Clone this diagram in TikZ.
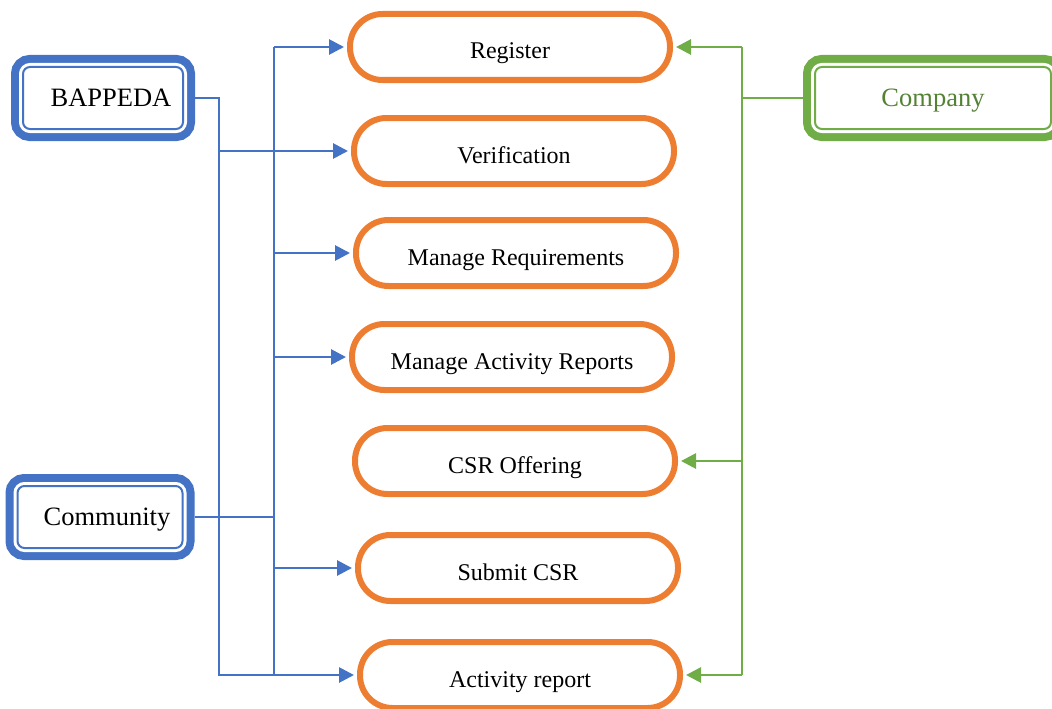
\documentclass[tikz,border=0pt]{standalone}
\usepackage{fontspec}
\setmainfont{Liberation Serif}
\usetikzlibrary{arrows.meta, positioning, calc}
\definecolor{actorblue}{HTML}{4472C4}
\definecolor{ucorange}{HTML}{ED7D31}
\definecolor{actorgreen}{HTML}{70AD47}
\definecolor{companytext}{HTML}{548235}

\begin{document}
\begin{tikzpicture}[x=1pt, y=-1pt,
        actor/.style={rectangle, draw=#1, line width=2pt, fill=white, rounded corners=7pt, minimum height=62pt, inner sep=0pt, text height=17pt, text depth=0pt, font=\fontsize{26.5}{30}\selectfont, preaction={draw=#1, line width=24pt}, preaction={draw=white, line width=8pt}},
        usecase/.style={rectangle, draw=ucorange, line width=6pt, fill=white, rounded corners=32.5pt, minimum width=320pt, minimum height=66pt, text height=24pt, text depth=0pt, font=\fontsize{24}{28}\selectfont},
        bline/.style={line width=2.8pt, actorblue},
        gline/.style={line width=2.8pt, actorgreen},
        barrow/.style={bline, -{Triangle[length=15pt, width=15pt]}, shorten >=3pt},
        garrow/.style={gline, -{Triangle[length=15pt, width=15pt]}, shorten >=3pt}
    ]
        \useasboundingbox (0,0) rectangle (1052,709);

        % Actors
        \node[actor=actorblue, minimum width=160pt] (bap) at (103, 98) {\hspace*{16pt}BAPPEDA};
        \node[actor=actorblue, minimum width=165pt] (com) at (100, 517) {\hspace*{14pt}Community};
        \node[actor=actorgreen, text=companytext, minimum width=236pt] (comp) at (933, 98) {Company};

        % Use cases
        \node[usecase] (reg) at (510, 47) {Register};
        \node[usecase] (ver) at (514, 151) {Verification};
        \node[usecase] (mreq) at (516, 253) {Manage Requirements};
        \node[usecase] (mact) at (512, 357) {Manage Activity Reports};
        \node[usecase] (csr) at (515, 461) {CSR Offering};
        \node[usecase] (sub) at (518, 568) {Submit CSR};
        \node[usecase] (act) at (520, 675) {Activity report};

        % Buses
        \coordinate (busL) at (219, 0);
        \coordinate (busR) at (274, 0);
        \coordinate (busG) at (742, 0);

        % BAPPEDA connections
        \draw[barrow] ([xshift=11pt]bap.east) -| (busL |- act.west) -- (act.west);
        \draw[barrow] (busL |- ver.west) -- (ver.west);

        % Community connections
        \draw[bline] ([xshift=11pt]com.east) -- (busR |- com.east);
        \draw[bline] (busR |- reg.west) -- (busR |- act.west);
        \draw[barrow] (busR |- reg.west) -- (reg.west);
        \draw[barrow] (busR |- mreq.west) -- (mreq.west);
        \draw[barrow] (busR |- mact.west) -- (mact.west);
        \draw[barrow] (busR |- sub.west) -- (sub.west);

        % Company connections
        \draw[gline] ([xshift=-11pt]comp.west) -- (busG |- comp.west);
        \draw[gline] (busG |- reg.east) -- (busG |- act.east);
        \draw[garrow] (busG |- reg.east) -- (reg.east);
        \draw[garrow] (busG |- csr.east) -- (csr.east);
        \draw[garrow] (busG |- act.east) -- (act.east);

    \end{tikzpicture}
\end{document}
